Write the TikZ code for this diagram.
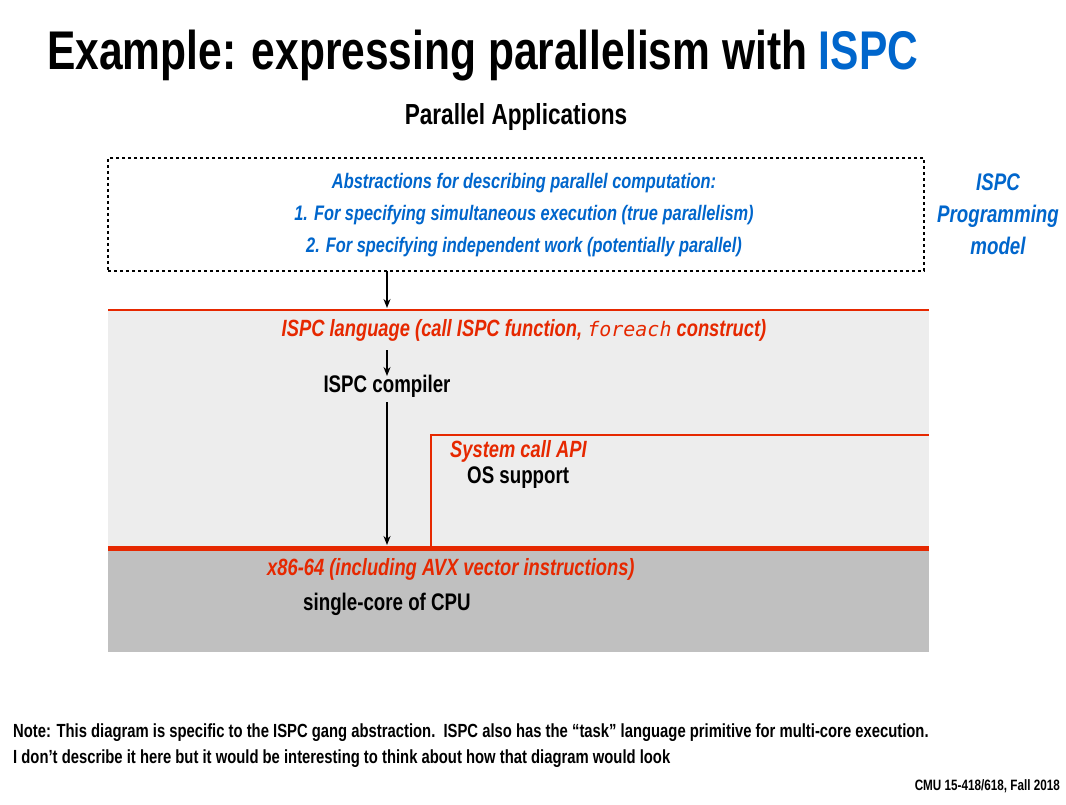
\documentclass[tikz,border=0pt]{standalone}
\usepackage{fontspec}
\setmainfont[FakeStretch=0.78]{Liberation Sans}
\newfontfamily\codefont{DejaVu Sans Mono}
\usetikzlibrary{arrows.meta}
\definecolor{ispcblue}{RGB}{0,102,204}
\definecolor{ispcred}{RGB}{230,40,0}
\definecolor{lightbg}{RGB}{237,237,237}
\definecolor{darkbg}{RGB}{192,192,192}
\begin{document}
\begin{tikzpicture}[x=1pt,y=-1pt,
  txt/.style={inner sep=0pt,font=\bfseries\fontsize{24}{28}\selectfont},
  redtxt/.style={txt,text=ispcred,font=\bfseries\itshape\fontsize{23.5}{27}\selectfont},
  bluetxt/.style={txt,text=ispcblue,font=\bfseries\itshape\fontsize{21}{25}\selectfont},
  arr/.style={-{Stealth[length=9pt,width=7pt]},line width=2pt}]
\useasboundingbox (0,0) rectangle (1066,805);
\fill[white] (0,0) rectangle (1066,805);
% regions
\fill[lightbg] (108,310) rectangle (929,548);
\fill[darkbg] (108,548) rectangle (929,652);
\draw[ispcred,line width=2pt] (108,310) -- (929,310);
\draw[ispcred,line width=1.5pt] (431,548) -- (431,435) -- (929,435);
\draw[ispcred,line width=5pt] (108,548) -- (929,548);
% title
\node[txt,anchor=base west,font=\bfseries\fontsize{54.5}{60}\selectfont] (title) at (47,70) {Example: expressing parallelism with \textcolor{ispcblue}{ISPC}};
\node[txt,anchor=base,font=\bfseries\fontsize{29}{32}\selectfont] (apps) at (516,125) {Parallel Applications};
% dashed box
\node[draw,dashed,line width=1.5pt,minimum width=816pt,minimum height=113pt,inner sep=0pt] (box) at (516,214.5) {};
\node[bluetxt] (l1) at (524,183) {Abstractions for describing parallel computation:};
\node[bluetxt] (l2) at (524,215) {1. For specifying simultaneous execution (true parallelism)};
\node[bluetxt] (l3) at (524,247) {2. For specifying independent work (potentially parallel)};
\node[txt,align=center,text=ispcblue,font=\bfseries\itshape\fontsize{24}{32}\selectfont] (model) at (998,214) {ISPC\\Programming\\model};
% language
\coordinate (boxout) at (387,271);
\node[redtxt] (lang) at (524,330) {ISPC language (call ISPC function, {\codefont\mdseries\fontsize{20}{22}\selectfont foreach} construct)};
\node[txt] (comp) at (387,386) {ISPC compiler};
\coordinate (langin) at (387,308);
\coordinate (langout) at (387,350);
\coordinate (compin) at (387,376);
\coordinate (compout) at (387,402);
\coordinate (isa) at (387,545);
\draw[arr] (boxout) -- (langin);
\draw[arr] (langout) -- (compin);
\draw[arr] (compout) -- (isa);
\node[redtxt,anchor=west] (sys) at (450,451) {System call API};
\node[txt,anchor=west] (os) at (467,478) {OS support};
\node[redtxt,anchor=west] (x86) at (267,569) {x86-64 (including AVX vector instructions)};
\node[txt,anchor=west] (cpu) at (303,604) {single-core of CPU};
% notes
\node[txt,anchor=west,font=\bfseries\fontsize{19}{22}\selectfont] (n1) at (13,733) {Note: This diagram is specific to the ISPC gang abstraction.\ \ ISPC also has the “task” language primitive for multi-core execution.};
\node[txt,anchor=west,font=\bfseries\fontsize{19}{22}\selectfont] (n2) at (13,759) {I don’t describe it here but it would be interesting to think about how that diagram would look};
\node[txt,anchor=east,font=\bfseries\fontsize{15}{17}\selectfont] (cmu) at (1060,786) {CMU 15-418/618, Fall 2018};
\end{tikzpicture}
\end{document}
